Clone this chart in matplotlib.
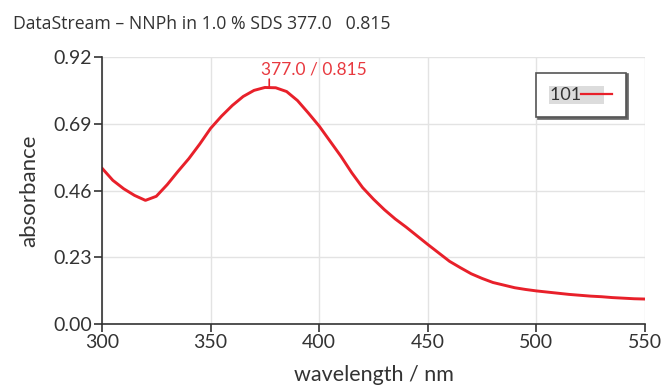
from matplotlib import pyplot as plt
from matplotlib.lines import Line2D

# Spectrum (every 5 nm)
wavelength = list(range(300, 551, 5))
absorbance = [0.537, 0.495, 0.466, 0.443, 0.426, 0.440, 0.480, 0.526, 0.570,
              0.620, 0.674, 0.716, 0.753, 0.784, 0.805, 0.815, 0.814, 0.801,
              0.770, 0.727, 0.682, 0.630, 0.578, 0.521, 0.470, 0.430, 0.394,
              0.362, 0.334, 0.304, 0.274, 0.245, 0.216, 0.194, 0.173, 0.157,
              0.143, 0.134, 0.125, 0.119, 0.114, 0.110, 0.106, 0.102, 0.099,
              0.096, 0.094, 0.091, 0.089, 0.087, 0.086]
x_ticks = [300, 350, 400, 450, 500, 550]
y_ticks = [0.00, 0.23, 0.46, 0.69, 0.92]
peak_x = 377.0
peak_y = 0.815
series_name = "101"

red = "#e8202a"
dark = "#333333"

fig = plt.figure(figsize=(6.61, 3.87), dpi=100)
ax = fig.add_axes([0.1543, 0.1628, 0.8215, 0.6899])

ax.plot(wavelength, absorbance, color=red, lw=2.1,
        solid_capstyle="round", solid_joinstyle="round")

ax.set_xlim(300, 550)
ax.set_ylim(0, 0.92)
ax.set_xticks(x_ticks)
ax.set_yticks(y_ticks)
ax.set_yticklabels([f"{v:.2f}" for v in y_ticks])
ax.grid(True, color="#e3e3e3", lw=1.0)
ax.set_axisbelow(True)
for s in ["top", "right"]:
    ax.spines[s].set_visible(False)
for s in ["left", "bottom"]:
    ax.spines[s].set_color(dark)
    ax.spines[s].set_linewidth(1.2)
ax.tick_params(direction="out", length=6, width=1.2, color=dark,
               labelsize=14, labelcolor=dark, pad=1)
for lab in ax.get_xticklabels() + ax.get_yticklabels():
    lab.set_family("Lato")

ax.set_xlabel("wavelength / nm", fontsize=15.5, color=dark, family="Lato", labelpad=10)
ax.set_ylabel("absorbance", fontsize=16, color=dark, family="Lato", labelpad=10)

# peak marker
ax.annotate("", xy=(peak_x, peak_y), xytext=(0, 6), textcoords="offset points",
            xycoords="data", arrowprops=dict(arrowstyle="-", color=red, lw=1.2,
                                             shrinkA=0, shrinkB=0))
ax.annotate(f"{peak_x:.1f} / {peak_y:.3f}", xy=(peak_x, peak_y), xytext=(-6, 7),
            textcoords="offset points", ha="left", va="bottom",
            color="#e8393f", fontsize=12.5, family="Lato")

fig.text(0.02, 0.937, f"DataStream \u2013 NNPh in 1.0 % SDS {peak_x:.1f}   {peak_y:.3f}",
         fontsize=12.7, color=dark, family="Open Sans", va="center")

handle = Line2D([], [], color=red, lw=1.6)
leg = ax.legend([handle], [series_name + "\u2007\u2007"], loc="upper right",
                bbox_to_anchor=(0.975, 0.962), markerfirst=False,
                frameon=True, fancybox=False, framealpha=1,
                shadow={"ox": 1.2, "oy": -1.2, "color": "#666666", "alpha": 1},
                edgecolor="#555555", borderpad=0.8, borderaxespad=0.3,
                handlelength=1.7, handletextpad=-1.2,
                prop={"family": "Lato", "size": 13})
leg.get_frame().set_linewidth(1.2)
for t in leg.get_texts():
    t.set_color(dark)
    t.set_bbox(dict(facecolor="#dcdcdc", edgecolor="none", pad=1))

fig.savefig("out.png", dpi=100)
